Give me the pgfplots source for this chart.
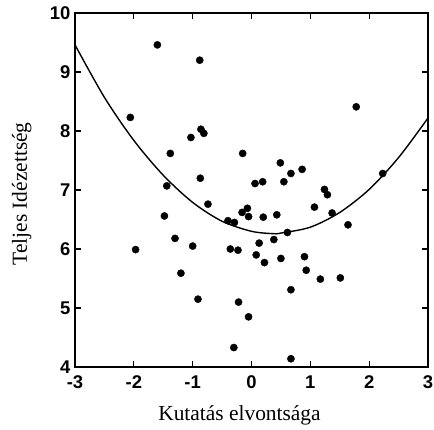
\documentclass[border=0pt]{standalone}
\usepackage{fontspec}
\setmainfont{Liberation Serif}
\newfontfamily\ticksans{Liberation Sans}
\usepackage{pgfplots}
\pgfplotsset{compat=1.18}

\begin{document}
\begin{tikzpicture}[x=1bp,y=1bp]
\path[use as bounding box] (-75,-62) rectangle (359,367);
\begin{axis}[
  at={(0,0)}, anchor=south west,
  scale only axis,
  width=353bp, height=354bp,
  xmin=-3, xmax=3, ymin=4, ymax=10,
  xtick={-3,-2,...,3}, ytick={4,5,...,10},
  tick align=inside,
  major tick length=6bp,
  axis line style={line width=1.5bp},
  every tick/.style={line width=1.2bp, black},
  /pgf/number format/assume math mode=true,
  tick label style={font=\ticksans\bfseries\fontsize{18.5}{18.5}\selectfont},
  xticklabel style={yshift=-5bp},
  yticklabel style={xshift=-1bp},
  xlabel={Kutatás elvontsága},
  ylabel={Teljes Idézettség},
  label style={font=\fontsize{21.5}{24}\selectfont},
  xlabel style={at={(axis description cs:0.466,-0.1497)}, anchor=base},
  ylabel style={at={(axis description cs:-0.136,0.489)}, anchor=base},
]
% fitted quadratic trend
\addplot[black, line width=1.4bp, smooth] coordinates {
  (-3,9.46) (-2.5,8.57) (-2,7.84) (-1.5,7.25) (-1,6.79) (-0.5,6.47)
  (0,6.30) (0.37,6.26) (0.5,6.27) (1,6.37) (1.5,6.62) (2,7.01)
  (2.5,7.55) (3,8.22)
};
% observations
\addplot[only marks, mark=*, mark size=3.6bp, black] coordinates {
  (-1.60,9.46) (-0.88,9.20) (-2.06,8.23) (-1.03,7.89) (-0.86,8.03)
  (-0.81,7.96) (-1.38,7.62) (-0.15,7.62) (-1.44,7.07) (-0.87,7.20)
  (0.06,7.11) (1.78,8.41) (0.49,7.46) (0.86,7.35) (0.67,7.28)
  (0.19,7.14) (0.55,7.14) (1.24,7.01) (1.29,6.92) (2.23,7.28)
  (-0.74,6.76) (-1.48,6.56) (-0.16,6.62) (-0.07,6.69) (-0.05,6.55)
  (-0.40,6.48) (-0.29,6.45) (-1.30,6.18) (-1.97,5.99) (-1.00,6.05)
  (-0.36,6.00) (-0.23,5.98) (0.08,5.90) (0.13,6.10) (-1.20,5.59)
  (-0.91,5.15) (-0.22,5.10) (-0.05,4.85) (-0.30,4.33) (0.20,6.54)
  (0.43,6.58) (1.07,6.71) (1.37,6.61) (1.64,6.41) (0.61,6.28)
  (0.38,6.16) (0.22,5.77) (0.50,5.84) (0.90,5.87) (0.93,5.64)
  (1.17,5.49) (1.51,5.51) (0.67,5.31) (0.67,4.14)
};
\end{axis}
\end{tikzpicture}
\end{document}
